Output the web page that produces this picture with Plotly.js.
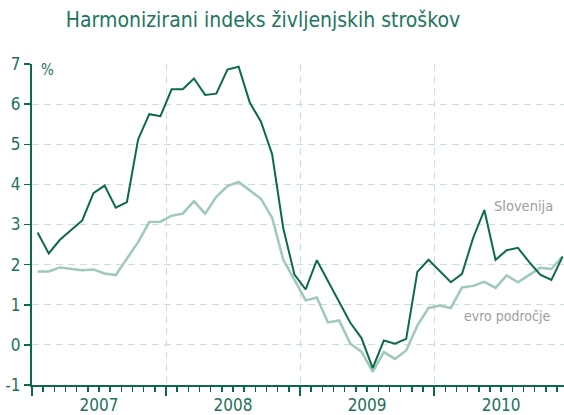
<!DOCTYPE html>
<html>
<head>
<meta charset="utf-8">
<script src="https://cdn.plot.ly/plotly-3.0.1.min.js"></script>
<style>html,body{margin:0;padding:0;background:#fff;}#chart{width:564px;height:415px;}</style>
</head>
<body>
<div id="chart"></div>
<script>
// Monthly data Jan 2007 - Dec 2010 (month index i plotted at i + 0.5)
const years = ['2007', '2008', '2009', '2010'];
const slovenija = [
  2.8, 2.28, 2.62, 2.87, 3.1, 3.78, 3.97, 3.42, 3.56, 5.12, 5.75, 5.7,
  6.37, 6.37, 6.64, 6.23, 6.26, 6.86, 6.93, 6.04, 5.56, 4.75, 2.9, 1.75,
  1.38, 2.11, 1.6, 1.08, 0.55, 0.17, -0.58, 0.11, 0.03, 0.15, 1.82, 2.12,
  1.83, 1.56, 1.77, 2.67, 3.36, 2.12, 2.36, 2.42, 2.07, 1.75, 1.62, 2.2
];
const evroPodrocje = [
  1.83, 1.83, 1.93, 1.9, 1.86, 1.88, 1.78, 1.74, 2.14, 2.56, 3.06, 3.07,
  3.22, 3.27, 3.58, 3.27, 3.69, 3.96, 4.06, 3.85, 3.64, 3.17, 2.12, 1.62,
  1.11, 1.18, 0.56, 0.61, 0.03, -0.17, -0.67, -0.18, -0.35, -0.14, 0.48, 0.92,
  0.98, 0.92, 1.43, 1.47, 1.57, 1.42, 1.73, 1.56, 1.75, 1.92, 1.89, 2.21
];
const yTicks = [-1, 0, 1, 2, 3, 4, 5, 6, 7];
const seriesNames = ['Slovenija', 'evro področje'];

const months = slovenija.map((_, i) => i + 0.5);
const yearBounds = years.map((_, k) => k * 12).concat([years.length * 12]);
const yearMids = years.map((_, k) => k * 12 + 6);

const dark = '#0b6a4c';
const light = '#9fc9b9';
const gridCol = '#c9e0d7';
const txt = '#1d715a';
const FONT = '"Liberation Sans Narrow", "DejaVu Sans Condensed", Arial, sans-serif';

const traces = [
  {x: months, y: evroPodrocje, type: 'scatter', mode: 'lines', name: seriesNames[1],
   line: {color: light, width: 2.5}, hoverinfo: 'skip'},
  {x: months, y: slovenija, type: 'scatter', mode: 'lines', name: seriesNames[0],
   line: {color: dark, width: 2}, hoverinfo: 'skip'}
];

const xr = [0, 47.63];
const yr = [-1, 7];

const layout = {
  width: 564, height: 415,
  margin: {l: 32, r: 0, t: 64, b: 30},
  paper_bgcolor: '#fff', plot_bgcolor: '#fff',
  showlegend: false,
  font: {family: FONT, color: txt, size: 16},
  title: {text: 'Harmonizirani indeks življenjskih stroškov',
          font: {family: FONT, size: 21, color: '#1e7560'},
          xref: 'container', yref: 'container', x: 263 / 564, xanchor: 'center',
          y: 1 - 20 / 415, yanchor: 'middle'},
  xaxis: {
    range: xr, fixedrange: true,
    tickmode: 'array', tickvals: yearBounds, showticklabels: false,
    ticks: 'outside', ticklen: 9, tickwidth: 2, tickcolor: dark,
    showline: true, linecolor: dark, linewidth: 2,
    showgrid: true, gridcolor: gridCol, gridwidth: 1, griddash: '7px,5px',
    zeroline: false,
    minor: {dtick: 1, tick0: 0, ticks: 'outside', ticklen: 5, tickwidth: 1.5, tickcolor: dark, showgrid: false}
  },
  xaxis2: {
    overlaying: 'x', matches: 'x', range: xr, fixedrange: true,
    tickmode: 'array', tickvals: yearMids, ticktext: years,
    ticks: '', showgrid: false, showline: false, zeroline: false,
    ticklabelstandoff: 8,
    tickfont: {size: 17, color: txt, family: FONT}, anchor: 'y'
  },
  yaxis: {
    range: yr, fixedrange: true,
    tickmode: 'array', tickvals: yTicks, ticktext: yTicks.map(String),
    ticks: 'outside', ticklen: 6, tickwidth: 1.5, tickcolor: dark,
    showline: true, linecolor: dark, linewidth: 2,
    showgrid: false, zeroline: false,
    tickfont: {size: 17, color: txt, family: FONT}
  },
  yaxis2: {
    overlaying: 'y', range: yr, fixedrange: true, anchor: 'x',
    tickmode: 'array', tickvals: yTicks.slice(1, -1), showticklabels: false,
    ticks: '', showline: false, zeroline: false,
    showgrid: true, gridcolor: gridCol, gridwidth: 1, griddash: '7px,5px'
  },
  annotations: [
    {text: '%', xref: 'paper', yref: 'paper', x: 7 / 532, y: 1 - 6 / 321, xanchor: 'left', yanchor: 'middle',
     showarrow: false, font: {size: 15, color: txt, family: FONT}},
    {text: seriesNames[0], xref: 'x', yref: 'y', x: 41.2, y: 3.45, xanchor: 'left', yanchor: 'middle',
     showarrow: false, font: {size: 14.5, color: '#9d9d9d', family: FONT}},
    {text: seriesNames[1], xref: 'x', yref: 'y', x: 38.5, y: 0.72, xanchor: 'left', yanchor: 'middle',
     showarrow: false, font: {size: 14, color: '#9d9d9d', family: FONT}}
  ]
};

// invisible trace to activate xaxis2 labels
traces.push({x: [0], y: [0], xaxis: 'x2', yaxis: 'y2', type: 'scatter', mode: 'markers',
             marker: {opacity: 0}, hoverinfo: 'skip', showlegend: false});

Plotly.newPlot('chart', traces, layout, {staticPlot: true, displayModeBar: false});
</script>
</body>
</html>
